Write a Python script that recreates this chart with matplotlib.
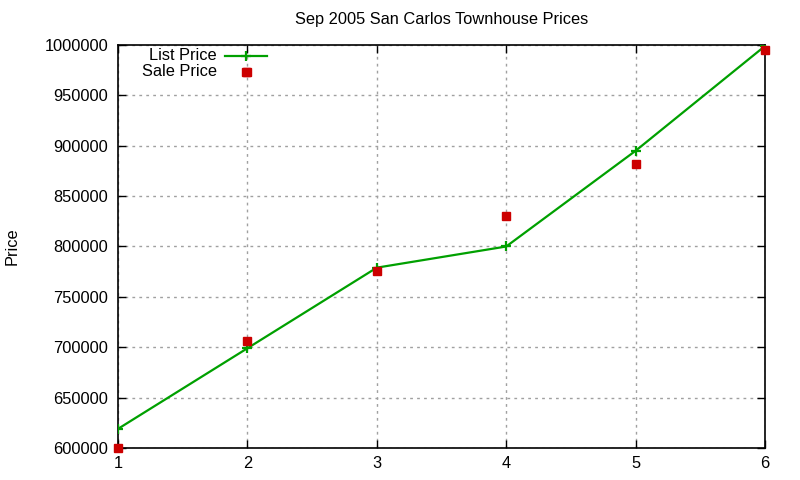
import matplotlib
matplotlib.use("Agg")
import matplotlib.pyplot as plt
from matplotlib.lines import Line2D

plt.rcParams['font.family'] = ['Liberation Sans', 'DejaVu Sans']

x_list = [1, 2, 3, 4, 5, 6]
list_price = [619000, 699000, 779000, 800000, 895000, 999000]
x_sale = [1, 2, 2, 3, 4, 5, 6]
sale_price = [600000, 706000, 973000, 776000, 830000, 882000, 995000]
y_ticks = [600000, 650000, 700000, 750000, 800000, 850000, 900000, 950000, 1000000]
x_ticks = [1, 2, 3, 4, 5, 6]

green = '#00a000'
red = '#cc0000'
fs = 11.8

fig = plt.figure(figsize=(8, 4.8), dpi=100)
ax = fig.add_axes([118/800, 32/480, (765-118)/800, (448-45)/480])

ax.plot(x_list, list_price, color=green, lw=1.6, marker='+', ms=7, mew=1.6, zorder=3)
ax.plot(x_sale, sale_price, ls='none', color=red, marker='s', ms=5.8, zorder=4, clip_on=False)

ax.set_xlim(1, 6)
ax.set_ylim(600000, 1000000)
ax.set_xticks(x_ticks)
ax.set_xticklabels([str(v) for v in x_ticks], fontsize=fs)
ax.set_yticks(y_ticks)
ax.set_yticklabels([str(v) for v in y_ticks], fontsize=fs)
ax.tick_params(direction='in', length=6, width=1, top=True, right=True)
ax.tick_params(axis='y', pad=7)
ax.tick_params(axis='x', pad=6)
ax.grid(True, color='#a0a0a0', ls=(0, (2, 3)), lw=1)
for s in ax.spines.values():
    s.set_linewidth(1.2)

ax.set_title('Sep 2005 San Carlos Townhouse Prices', fontsize=fs, pad=15)
fig.text(12/800, 1 - 246/480, 'Price', rotation=90, fontsize=fs, ha='center', va='center')

# legend (gnuplot style: right-aligned text, then sample)
fig.text(217/800, 1 - 55/480, 'List Price', fontsize=fs, ha='right', va='center')
fig.text(217/800, 1 - 71/480, 'Sale Price', fontsize=fs, ha='right', va='center')
fig.add_artist(Line2D([225/800, 267/800], [1 - 56/480, 1 - 56/480], color=green, lw=1.6))
fig.add_artist(Line2D([246/800], [1 - 56/480], color=green, marker='+', ms=7, mew=1.6))
fig.add_artist(Line2D([246/800], [1 - 72/480], color=red, marker='s', ms=5.8, ls='none'))

fig.savefig('out.png', dpi=100)
